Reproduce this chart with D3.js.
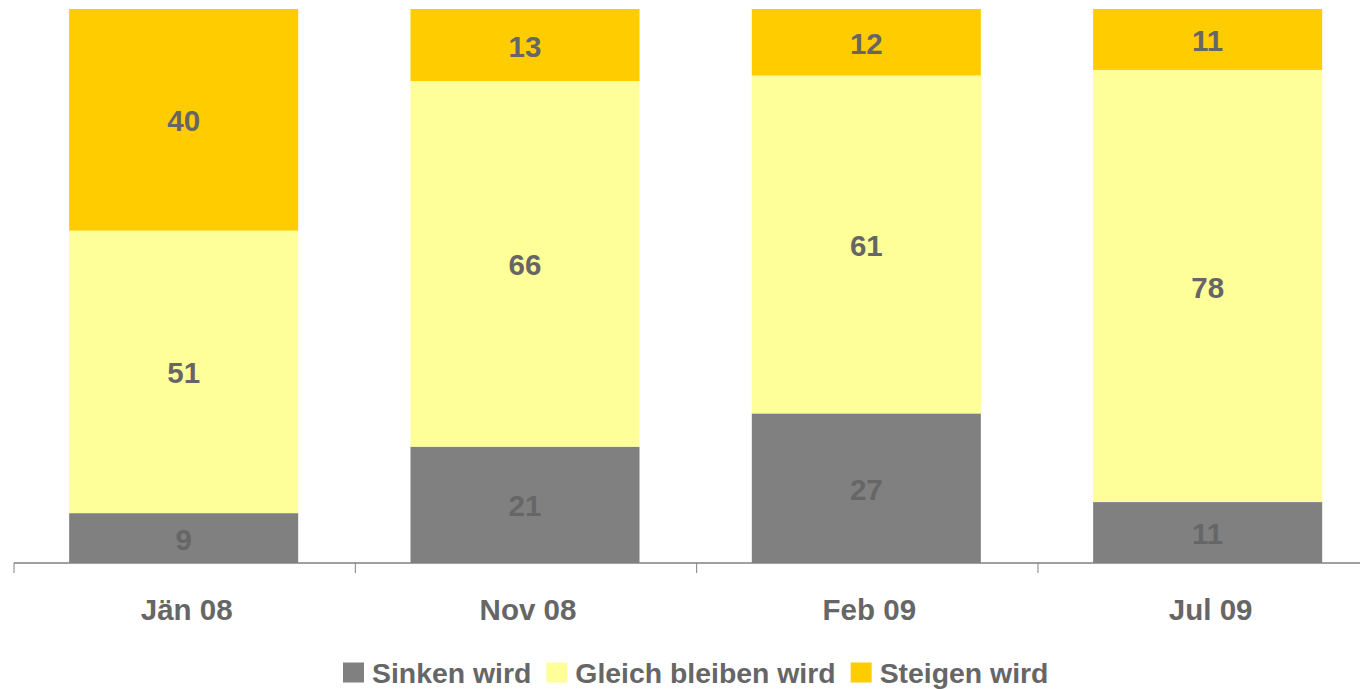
<!DOCTYPE html>
<html>
<head>
<meta charset="utf-8">
<script src="https://cdn.jsdelivr.net/npm/d3@7"></script>
<style>
  html, body { margin: 0; padding: 0; background: #fff; }
  svg { display: block; font-family: "Liberation Sans", Arial, sans-serif; }
</style>
</head>
<body>
<svg id="chart" width="1360" height="689"></svg>
<script>
const categories = ["Jän 08", "Nov 08", "Feb 09", "Jul 09"];
const seriesNames = ["Sinken wird", "Gleich bleiben wird", "Steigen wird"];
const sinken = [9, 21, 27, 11];
const gleich = [51, 66, 61, 78];
const steigen = [40, 13, 12, 11];
const colors = ["#808080", "#FFFF99", "#FFCC00"];
const textColor = "#666666";

const rows = categories.map((c, i) => ({
  cat: c, "Sinken wird": sinken[i], "Gleich bleiben wird": gleich[i], "Steigen wird": steigen[i]
}));

const svg = d3.select("#chart");
const baseY = 563, topY = 9;
const x = d3.scaleBand().domain(categories).range([14, 14 + 4 * 341.33])
  .paddingInner(0.329).paddingOuter(0.1645);
const y = d3.scaleLinear().domain([0, 100]).range([baseY, topY]);
const color = d3.scaleOrdinal().domain(seriesNames).range(colors);

const stack = d3.stack().keys(seriesNames)(rows);

const g = svg.append("g");
stack.forEach(layer => {
  const lg = g.append("g").attr("fill", color(layer.key));
  lg.selectAll("rect").data(layer).join("rect")
    .attr("x", d => x(d.data.cat) - 1)
    .attr("width", x.bandwidth())
    .attr("y", d => y(d[1]))
    .attr("height", d => y(d[0]) - y(d[1]));
  g.append("g").selectAll("text").data(layer).join("text")
    .attr("x", d => x(d.data.cat) - 1 + x.bandwidth() / 2)
    .attr("y", d => (y(d[0]) + y(d[1])) / 2 + 11.5)
    .attr("text-anchor", "middle")
    .attr("font-size", 29.5).attr("font-weight", "bold")
    .attr("fill", textColor)
    .text(d => d[1] - d[0]);
});

// axis line
const step = x.step();
svg.append("line").attr("x1", 14).attr("x2", 1360).attr("y1", baseY).attr("y2", baseY)
  .attr("stroke", "#808080").attr("stroke-width", 1.5);
const bounds = categories.map(c => x(c) - step * x.paddingInner() / 2);
svg.selectAll(".tk").data(bounds).join("line").attr("class", "tk")
  .attr("x1", d => d).attr("x2", d => d)
  .attr("y1", baseY).attr("y2", baseY + 10)
  .attr("stroke", "#808080").attr("stroke-width", 1);

// axis labels via d3 axis
const axis = svg.append("g").attr("transform", `translate(0,${baseY})`)
  .call(d3.axisBottom(x).tickSize(0).tickPadding(0));
axis.select(".domain").remove();
axis.selectAll("text")
  .attr("dy", null).attr("y", 57)
  .attr("dx", 2)
  .attr("font-size", 29.5).attr("font-weight", "bold")
  .attr("font-family", "Liberation Sans, Arial, sans-serif")
  .attr("fill", textColor);

// legend
const leg = svg.append("g");
let cx = 0;
seriesNames.forEach((name, i) => {
  const it = leg.append("g");
  it.append("rect").attr("x", cx).attr("y", 662.5).attr("width", 21).attr("height", 20).attr("fill", colors[i]);
  const t = it.append("text").attr("x", cx + 29).attr("y", 682.5)
    .attr("font-size", 28.4).attr("font-weight", "bold").attr("fill", textColor).text(name);
  cx += 29 + t.node().getComputedTextLength() + 15;
});
leg.attr("transform", `translate(${343},0)`);
</script>
</body>
</html>
